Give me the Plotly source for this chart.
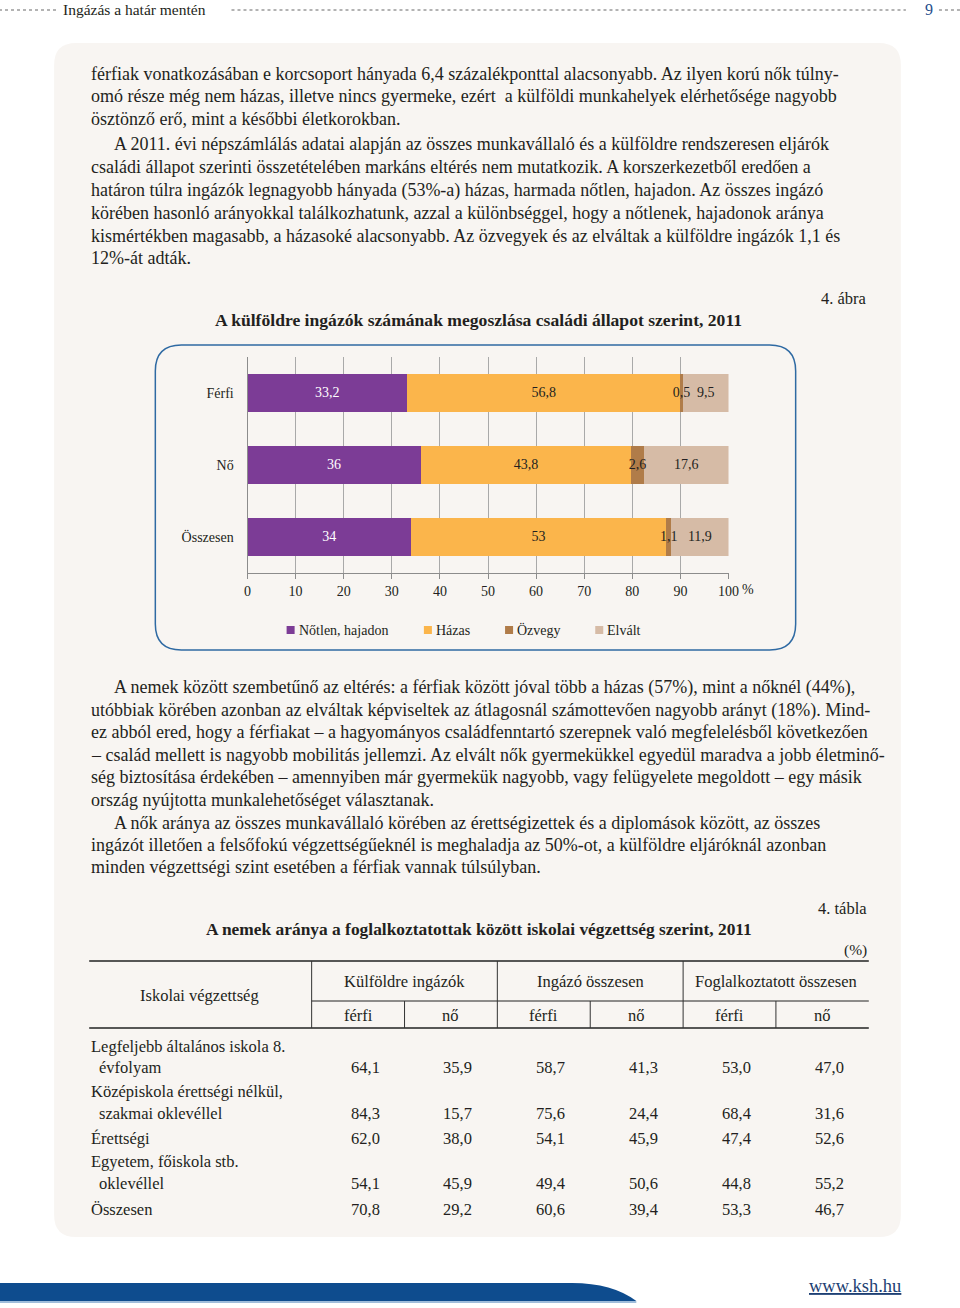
import plotly.graph_objects as go

# ---------------- data ----------------
categories = ["Férfi", "Nő", "Összesen"]
series_names = ["Nőtlen, hajadon", "Házas", "Özvegy", "Elvált"]
notlen = [33.2, 36.0, 34.0]
hazas = [56.8, 43.8, 53.0]
ozvegy = [0.5, 2.6, 1.1]
elvalt = [9.5, 17.6, 11.9]
x_ticks = [0, 10, 20, 30, 40, 50, 60, 70, 80, 90, 100]

table_groups = ["Külföldre ingázók", "Ingázó összesen", "Foglalkoztatott összesen"]
table_sub = ["férfi", "nő"]
edu_labels = [["Legfeljebb általános iskola 8.", "évfolyam"],
              ["Középiskola érettségi nélkül,", "szakmai oklevéllel"],
              ["Érettségi"],
              ["Egyetem, főiskola stb.", "oklevéllel"],
              ["Összesen"]]
kulfoldre_ferfi = [64.1, 84.3, 62.0, 54.1, 70.8]
kulfoldre_no = [35.9, 15.7, 38.0, 45.9, 29.2]
ingazo_ferfi = [58.7, 75.6, 54.1, 49.4, 60.6]
ingazo_no = [41.3, 24.4, 45.9, 50.6, 39.4]
fogl_ferfi = [53.0, 68.4, 47.4, 44.8, 53.3]
fogl_no = [47.0, 31.6, 52.6, 55.2, 46.7]

para1 = [
    "férfiak vonatkozásában e korcsoport hányada 6,4 százalékponttal alacsonyabb. Az ilyen korú nők túlny-",
    "omó része még nem házas, illetve nincs gyermeke, ezért  a külföldi munkahelyek elérhetősége nagyobb",
    "ösztönző erő, mint a későbbi életkorokban.",
]
para2 = [
    "A 2011. évi népszámlálás adatai alapján az összes munkavállaló és a külföldre rendszeresen eljárók",
    "családi állapot szerinti összetételében markáns eltérés nem mutatkozik. A korszerkezetből eredően a",
    "határon túlra ingázók legnagyobb hányada (53%-a) házas, harmada nőtlen, hajadon. Az összes ingázó",
    "körében hasonló arányokkal találkozhatunk, azzal a különbséggel, hogy a nőtlenek, hajadonok aránya",
    "kismértékben magasabb, a házasoké alacsonyabb. Az özvegyek és az elváltak a külföldre ingázók 1,1 és",
    "12%-át adták.",
]
para3 = [
    "A nemek között szembetűnő az eltérés: a férfiak között jóval több a házas (57%), mint a nőknél (44%),",
    "utóbbiak körében azonban az elváltak képviseltek az átlagosnál számottevően nagyobb arányt (18%). Mind-",
    "ez abból ered, hogy a férfiakat – a hagyományos családfenntartó szerepnek való megfelelésből következően",
    "– család mellett is nagyobb mobilitás jellemzi. Az elvált nők gyermekükkel egyedül maradva a jobb életminő-",
    "ség biztosítása érdekében – amennyiben már gyermekük nagyobb, vagy felügyelete megoldott – egy másik",
    "ország nyújtotta munkalehetőséget választanak.",
]
para4 = [
    "A nők aránya az összes munkavállaló körében az érettségizettek és a diplomások között, az összes",
    "ingázót illetően a felsőfokú végzettségűeknél is meghaladja az 50%-ot, a külföldre eljáróknál azonban",
    "minden végzettségi szint esetében a férfiak vannak túlsúlyban.",
]

# ---------------- helpers ----------------
W, H = 960, 1308          # design (reference) coordinates
FIG_W = 976               # rendered width (compensates the horizontal scaling of the capture)
SHIFT = 4
FONT = "Liberation Serif"
TXT = "#231f20"
PSIZE = 18


def px(x):
    return x / W


def py(y):
    return 1 - y / H


def fmt(v):
    return ("%g" % v).replace(".", ",")


def fmt1(v):
    return ("%.1f" % v).replace(".", ",")


def rounded_rect(x0, y0, x1, y1, r):
    rx, ry = r / W, r / H
    X0, X1, Y0, Y1 = px(x0), px(x1), py(y0), py(y1)
    return (f"M {X0+rx},{Y0} L {X1-rx},{Y0} Q {X1},{Y0} {X1},{Y0-ry} "
            f"L {X1},{Y1+ry} Q {X1},{Y1} {X1-rx},{Y1} L {X0+rx},{Y1} "
            f"Q {X0},{Y1} {X0},{Y1+ry} L {X0},{Y0-ry} Q {X0},{Y0} {X0+rx},{Y0} Z")


annotations = []
shapes = []


def text(x, y, s, size=PSIZE, anchor="left", color=TXT, bold=False):
    annotations.append(dict(
        x=px(x), y=py(y), xref="paper", yref="paper", text=("<b>%s</b>" % s) if bold else s,
        showarrow=False, xanchor=anchor, yanchor="middle",
        font=dict(family=FONT, size=size, color=color)))


def hline(x0, x1, y, color="#333", width=1, dash=None):
    shapes.append(dict(type="line", xref="paper", yref="paper", x0=px(x0), x1=px(x1),
                       y0=py(y), y1=py(y), line=dict(color=color, width=width, dash=dash)))


def vline(x, y0, y1, color="#333", width=1):
    shapes.append(dict(type="line", xref="paper", yref="paper", x0=px(x), x1=px(x),
                       y0=py(y0), y1=py(y1), line=dict(color=color, width=width)))


# ---------------- page background ----------------
shapes.append(dict(type="path", xref="paper", yref="paper", layer="below",
                   path=rounded_rect(55, 43, 900, 1237, 22),
                   fillcolor="#f8f5f2", line=dict(width=0)))
shapes.append(dict(type="path", xref="paper", yref="paper", layer="below",
                   path=rounded_rect(156, 345, 795, 650, 26),
                   fillcolor="#f8f5f2", line=dict(color="#2f6aa3", width=1.5)))

# header
hline(0, 58, 10, color="#9a9a9a", width=1.5, dash="dot")
hline(232, 905, 10, color="#9a9a9a", width=1.5, dash="dot")
hline(938, 960, 10, color="#9a9a9a", width=1.5, dash="dot")
text(62, 9, "Ingázás a határ mentén", size=15.5)
text(928, 9, "9", size=16, anchor="center", color="#1f4e8c")

# footer band
shapes.append(dict(type="path", xref="paper", yref="paper",
                   path=(f"M {px(0)},{py(1283)} L {px(572)},{py(1283)} "
                         f"Q {px(612)},{py(1283)} {px(636)},{py(1301)} L {px(0)},{py(1301)} Z"),
                   fillcolor="#0e4c8e", line=dict(width=0)))
hline(0, 636, 1302, color="#7fa7cf", width=1.5)
text(806, 1286, "<u>www.ksh.hu</u>", size=18.5, color="#1d3f73")

# ---------------- paragraphs ----------------
LM = 90
IND = 113
ys1 = [74, 96, 119]
for i, s in enumerate(para1):
    text(LM, ys1[i], s)
ys2 = [144, 167, 190, 213, 236, 258]
for i, s in enumerate(para2):
    text(IND if i == 0 else LM, ys2[i], s)
ys3 = [687, 710, 732, 755, 777, 800]
for i, s in enumerate(para3):
    text(IND if i == 0 else LM, ys3[i], s)
ys4 = [823, 845, 867]
for i, s in enumerate(para4):
    text(IND if i == 0 else LM, ys4[i], s)

# ---------------- chart titles ----------------
text(868, 298, "4. ábra", size=16.5, anchor="right")
text(479, 320, "A külföldre ingázók számának megoszlása családi állapot szerint, 2011", size=17.6,
     anchor="center", bold=True)

# ---------------- bar chart ----------------
colors = ["#7c3c96", "#fbb54b", "#b07c49", "#d6bba6"]
txtcolors = ["#ffffff", TXT, TXT, TXT]
series = [notlen, hazas, ozvegy, elvalt]

fig = go.Figure()
for name, vals, c in zip(series_names, series, colors):
    fig.add_trace(go.Bar(
        y=categories, x=vals, name=name, orientation="h",
        marker=dict(color=c, line=dict(width=0)),
        showlegend=False, hoverinfo="x+y+name"))

# segment labels drawn on top of all bars (centre of each stacked segment)
cum = [0.0] * len(categories)
for name, vals, tc in zip(series_names, series, txtcolors):
    mids = [cum[i] + vals[i] / 2 for i in range(len(vals))]
    cum = [cum[i] + vals[i] for i in range(len(vals))]
    fig.add_trace(go.Scatter(
        y=categories, x=mids, mode="text", text=[fmt(v) for v in vals],
        textposition="middle center", textfont=dict(family=FONT, size=14, color=tc),
        showlegend=False, hoverinfo="skip", cliponaxis=False))

# "%" after 100
text(747, 590, "%", size=14, anchor="center")

# manual legend
leg = [(287, "Nőtlen, hajadon"), (424, "Házas"), (505, "Özvegy"), (595, "Elvált")]
for (lx, lname), c in zip(leg, colors):
    shapes.append(dict(type="rect", xref="paper", yref="paper", x0=px(lx), x1=px(lx + 8),
                       y0=py(634), y1=py(626), fillcolor=c, line=dict(width=0)))
    text(lx + 10, 630, lname, size=14)

# ---------------- table ----------------
TS = 16.5
text(868, 908, "4. tábla", size=16.5, anchor="right")
text(479, 929, "A nemek aránya a foglalkoztatottak között iskolai végzettség szerint, 2011", size=17.4,
     anchor="center", bold=True)
text(868, 950, "(%)", size=15.5, anchor="right")

hline(90, 868, 961, color="#222", width=1.5)
hline(312, 868, 1001, color="#222", width=1)
hline(90, 868, 1028, color="#222", width=1.5)
col_edges = [312, 404.7, 497.3, 590, 682.7, 775.3, 868]
for k, xe in enumerate(col_edges[:-1]):
    if k % 2 == 0:
        vline(xe, 961, 1028)
    else:
        vline(xe, 1001, 1028)
text(200, 995, "Iskolai végzettség", size=TS, anchor="center")
for g, name in enumerate(table_groups):
    cx = (col_edges[2 * g] + col_edges[2 * g + 2]) / 2
    text(cx, 981, name, size=TS, anchor="center")
    for s in range(2):
        cxs = (col_edges[2 * g + s] + col_edges[2 * g + s + 1]) / 2
        text(cxs, 1015, table_sub[s], size=TS, anchor="center")

row_first = [1046, 1091, 1138, 1161, 1209]
row_vals = [1067, 1113, 1138, 1183, 1209]
cols = [kulfoldre_ferfi, kulfoldre_no, ingazo_ferfi, ingazo_no, fogl_ferfi, fogl_no]
for r, lab in enumerate(edu_labels):
    if len(lab) == 2:
        text(90, row_first[r], lab[0], size=TS)
        text(98, row_vals[r], lab[1], size=TS)
    else:
        text(90, row_vals[r], lab[0], size=TS)
    for c, col in enumerate(cols):
        cx = (col_edges[c] + col_edges[c + 1]) / 2 + 7
        text(cx, row_vals[r], fmt1(col[r]), size=TS, anchor="center")

fig.update_layout(
    width=FIG_W, height=H, margin=dict(l=0, r=0, t=0, b=0),
    paper_bgcolor="#ffffff", plot_bgcolor="rgba(0,0,0,0)",
    barmode="stack", bargap=0.46,
    xaxis=dict(domain=[px(248), px(728)], range=[0, 100], tickvals=x_ticks,
               ticktext=[str(t) for t in x_ticks], showgrid=True, gridcolor="#a9a9a9",
               gridwidth=1, zeroline=False, showline=True, linecolor="#8c8c8c", linewidth=1,
               ticks="outside", ticklen=5, tickcolor="#8c8c8c",
               tickfont=dict(family=FONT, size=14, color=TXT), fixedrange=True),
    yaxis=dict(domain=[py(573), py(357)], autorange="reversed", showgrid=False,
               zeroline=False, showline=True, linecolor="#8c8c8c", linewidth=1,
               ticks="", ticklabelstandoff=10,
               tickfont=dict(family=FONT, size=14, color=TXT), fixedrange=True),
    font=dict(family=FONT, color=TXT),
    shapes=shapes, annotations=annotations, showlegend=False,
)

post = (
    "document.documentElement.style.margin='0';"
    "document.body.style.margin='0';"
    "document.documentElement.style.overflow='hidden';"
    "document.body.style.overflow='hidden';"
    "var gd=document.getElementById('{plot_id}');"
    "gd.style.transform='translateX(-%dpx)';" % SHIFT
)
fig.write_html("out.html", config={"displayModeBar": False}, post_script=post)
